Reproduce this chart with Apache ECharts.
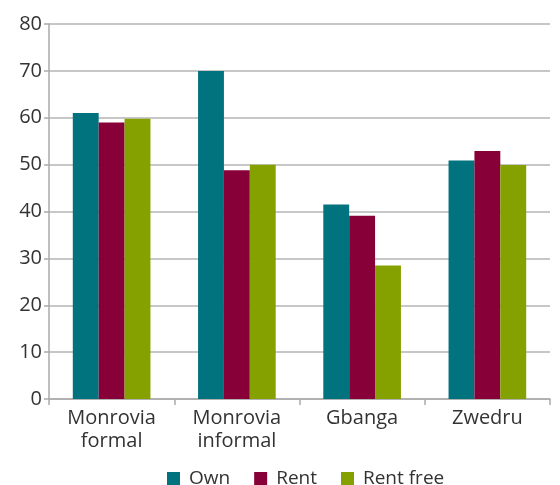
<!DOCTYPE html>
<html><head><meta charset="utf-8">
<script src="https://cdn.jsdelivr.net/npm/echarts@6/dist/echarts.min.js"></script>
<style>html,body{margin:0;padding:0;background:#fff}#c{width:560px;height:485px}</style>
</head><body><div id="c"></div>
<script>
const categories = ["Monrovia\nformal", "Monrovia\ninformal", "Gbanga", "Zwedru"];
const seriesNames = ["Own", "Rent", "Rent free"];
const own = [61.0, 70.0, 41.5, 50.9];
const rent = [59.0, 48.8, 39.1, 52.9];
const rentFree = [59.8, 50.0, 28.5, 49.9];
const yTicks = [0, 10, 20, 30, 40, 50, 60, 70, 80];
const colors = ["#01737E", "#880038", "#85A100"];
const font = "Open Sans";
const chart = echarts.init(document.getElementById('c'), null, {renderer: 'canvas'});
chart.setOption({
  animation: false,
  color: colors,
  grid: {left: 49, right: 10, top: 24, bottom: 86, containLabel: false},
  legend: {
    top: 469, left: 167, padding: 0, itemWidth: 13, itemHeight: 13, itemGap: 24,
    icon: 'rect',
    textStyle: {fontFamily: font, fontSize: 19, color: '#333', padding: [0, 0, 0, 4]},
    data: seriesNames
  },
  xAxis: {
    type: 'category', data: categories,
    axisLine: {lineStyle: {color: '#aaa', width: 1.5}},
    axisTick: {show: true, length: 6, lineStyle: {color: '#aaa', width: 1.5}},
    axisLabel: {fontFamily: font, fontSize: 20, color: '#333', lineHeight: 23, margin: 8}
  },
  yAxis: {
    type: 'value', min: yTicks[0], max: yTicks[yTicks.length - 1], interval: 10,
    axisLine: {show: true, lineStyle: {color: '#aaa', width: 1.5}},
    axisTick: {show: true, length: 5, lineStyle: {color: '#aaa', width: 1.5}},
    splitLine: {lineStyle: {color: '#b5b5b5', width: 1.5}},
    axisLabel: {fontFamily: font, fontSize: 20, color: '#333', margin: 7}
  },
  series: [
    {name: seriesNames[0], type: 'bar', data: own, barGap: '0%', barCategoryGap: '38%'},
    {name: seriesNames[1], type: 'bar', data: rent, barGap: '0%', barCategoryGap: '38%'},
    {name: seriesNames[2], type: 'bar', data: rentFree, barGap: '0%', barCategoryGap: '38%'}
  ]
});
</script></body></html>
